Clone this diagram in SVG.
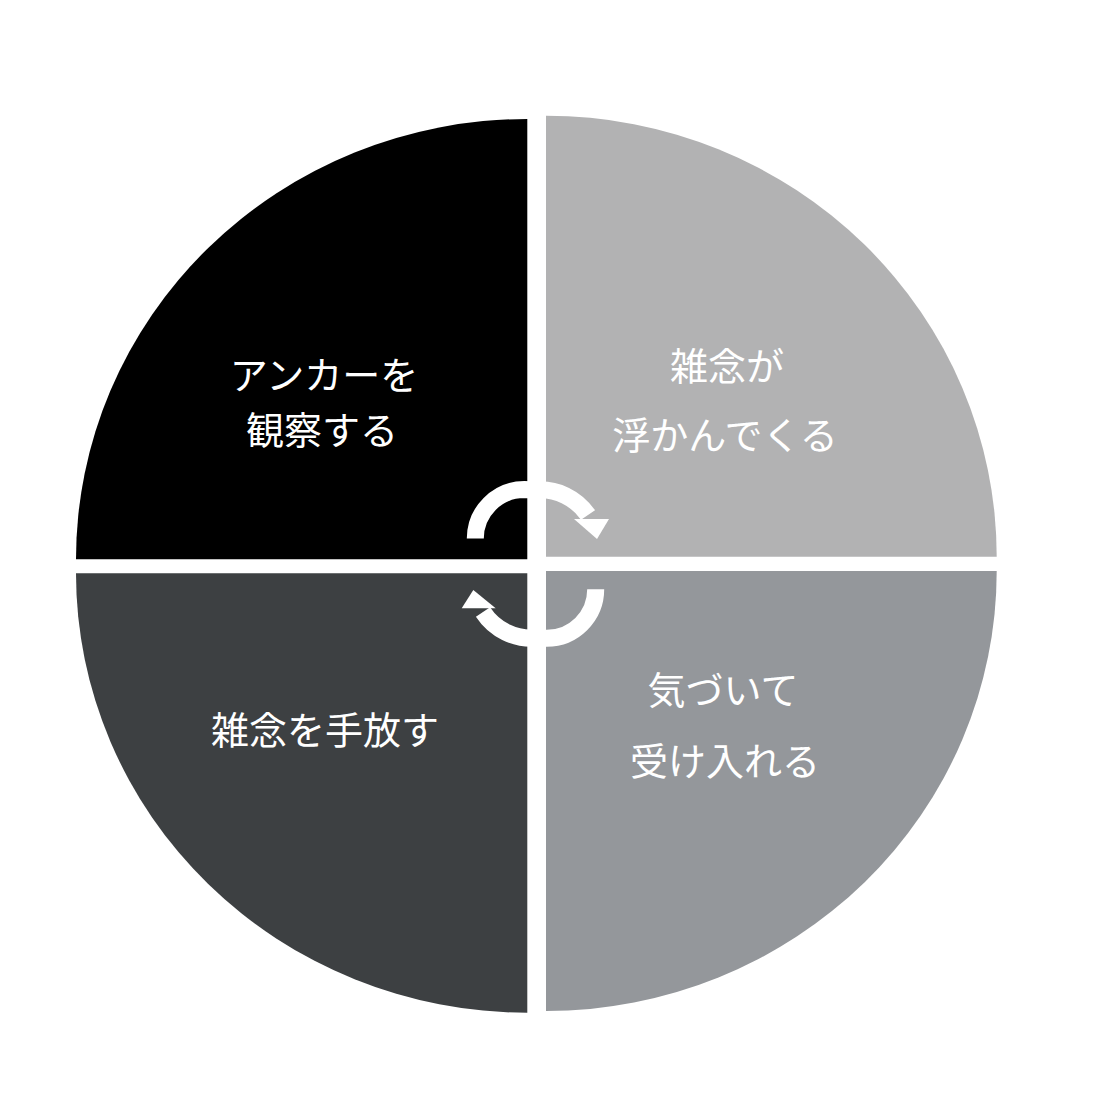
<svg xmlns="http://www.w3.org/2000/svg" width="1104" height="1104" viewBox="0 0 1104 1104">
<style>
.q{stroke:none}
.lbl{font-family:"Noto Sans CJK JP","Noto Sans CJK SC",sans-serif;font-size:38px;fill:#ffffff;text-anchor:middle}
.arc{fill:none;stroke:#ffffff;stroke-width:17}
.head{fill:#ffffff}
</style>
<rect width="1104" height="1104" fill="#ffffff"/>
<g id="node-anchor">
<path class="q" fill="#000000" d="M527.3 559.3 H76 A451.3 440.3 0 0 1 527.3 119 Z"/>
<text class="lbl" x="324" y="389">アンカーを</text>
<text class="lbl" x="322" y="444">観察する</text>
</g>
<g id="node-arise">
<path class="q" fill="#b2b2b3" d="M546 556.7 V115.7 A450.7 441 0 0 1 996.7 556.7 Z"/>
<text class="lbl" x="727" y="380">雑念が</text>
<text class="lbl" x="725" y="449">浮かんでくる</text>
</g>
<g id="node-release">
<path class="q" fill="#3d4042" d="M527.3 573.3 H76 A451.3 439.4 0 0 0 527.3 1012.7 Z"/>
<text class="lbl" x="325" y="744">雑念を手放す</text>
</g>
<g id="node-accept">
<path class="q" fill="#94979b" d="M546 571 H996.7 A450.7 440 0 0 1 546 1011 Z"/>
<text class="lbl" x="723" y="704">気づいて</text>
<text class="lbl" x="725" y="775">受け入れる</text>
</g>
<g id="connectors">
<path class="arc" d="M475.3 538.6 A49 49 0 0 1 524.3 489.6 L536 490 A58 58 0 0 1 588 515"/>
<polygon class="head" points="574,519 609,519 597,539"/>
<path class="arc" d="M595.7 589.3 A49 49 0 0 1 546.7 638.3 L536 638 A58 58 0 0 1 483 612"/>
<polygon class="head" points="461.7,608.3 495.7,608.3 473.3,590"/>
</g>
</svg>
